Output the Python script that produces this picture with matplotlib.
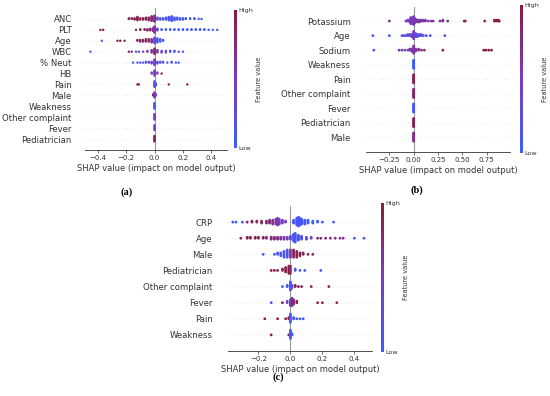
import numpy as np
import matplotlib
matplotlib.use("Agg")
import matplotlib.pyplot as plt
from matplotlib.colors import LinearSegmentedColormap
from matplotlib.cm import ScalarMappable

# ---- panel (a) ----
a_features = ["ANC", "PLT", "Age", "WBC", "% Neut", "HB", "Pain", "Male",
              "Weakness", "Other complaint", "Fever", "Pediatrician"]
a_shap = [
    [-0.18, -0.16, -0.14, -0.12, -0.1, -0.08, -0.06, -0.04, -0.02, 0.0, 0.02, 0.04, 0.06,
     0.08, 0.1, 0.12, 0.14, 0.16, 0.18, 0.2, 0.22, 0.25, 0.28, 0.31, 0.33],
    [-0.38, -0.36, -0.13, -0.1, -0.07, -0.05, -0.03, -0.01, 0.0, 0.02, 0.05, 0.08, 0.11,
     0.14, 0.17, 0.2, 0.23, 0.26, 0.29, 0.32, 0.35, 0.38, 0.41, 0.44],
    [-0.37, -0.26, -0.24, -0.21, -0.12, -0.1, -0.08, -0.06, -0.04, -0.02, 0.0, 0.02, 0.04, 0.06],
    [-0.45, -0.18, -0.16, -0.13, -0.11, -0.08, -0.05, -0.02, 0.0, 0.02, 0.05, 0.08, 0.11,
     0.14, 0.17, 0.2],
    [-0.15, -0.12, -0.1, -0.08, -0.06, -0.04, -0.02, 0.0, 0.02, 0.04, 0.06, 0.09, 0.12, 0.15, 0.17],
    [-0.02, 0.0, 0.02, 0.05],
    [-0.12, -0.11, 0.0, 0.01, 0.1, 0.23],
    [-0.01, 0.0, 0.01],
    [0.0],
    [0.0],
    [0.0],
    [0.0],
]
a_color = [
    [0.9, 0.9, 0.9, 0.95, 0.85, 0.9, 0.9, 0.85, 0.8, 0.7, 0.3, 0.2, 0.15, 0.1, 0.1, 0.1,
     0.1, 0.1, 0.05, 0.05, 0.05, 0.05, 0.05, 0.05, 0.05],
    [1.0, 1.0, 0.9, 0.9, 0.9, 0.85, 0.8, 0.7, 0.6, 0.3, 0.1, 0.05, 0.05, 0.05, 0.05, 0.05,
     0.05, 0.05, 0.05, 0.05, 0.05, 0.05, 0.05, 0.05],
    [0.1, 0.95, 0.95, 0.9, 0.9, 0.9, 0.85, 0.85, 0.8, 0.7, 0.3, 0.1, 0.1, 0.1],
    [0.1, 0.9, 0.7, 0.3, 0.2, 0.5, 0.5, 0.7, 0.8, 0.6, 0.4, 0.3, 0.2, 0.2, 0.15, 0.1],
    [0.1, 0.1, 0.15, 0.1, 0.2, 0.3, 0.4, 0.5, 0.3, 0.2, 0.15, 0.1, 0.1, 0.1, 0.1],
    [0.5, 0.6, 0.5, 0.9],
    [1.0, 1.0, 0.1, 0.2, 1.0, 1.0],
    [0.9, 0.6, 0.2],
    [0.1],
    [0.5],
    [0.4],
    [0.9],
]
a_count = [
    [2, 2, 3, 6, 3, 3, 4, 5, 8, 10, 4, 3, 3, 4, 6, 8, 5, 4, 3, 3, 2, 2, 2, 1, 1],
    [1, 1, 1, 2, 2, 3, 4, 6, 12, 4, 2, 2, 2, 2, 2, 2, 2, 2, 2, 2, 2, 1, 1, 1],
    [1, 1, 1, 1, 2, 3, 3, 4, 4, 5, 8, 6, 4, 2],
    [1, 1, 1, 1, 1, 1, 2, 4, 8, 4, 3, 3, 2, 2, 1, 1],
    [1, 1, 1, 1, 2, 2, 3, 8, 3, 2, 2, 1, 2, 1, 1],
    [2, 6, 2, 1],
    [1, 1, 8, 3, 1, 1],
    [2, 6, 2],
    [8],
    [8],
    [6],
    [8],
]

# ---- panel (b) ----
b_features = ["Potassium", "Age", "Sodium", "Weakness", "Pain", "Other complaint",
              "Fever", "Pediatrician", "Male"]
b_shap = [
    [-0.25, -0.08, -0.06, -0.04, -0.03, -0.02, -0.01, 0.0, 0.01, 0.02, 0.04, 0.06, 0.08,
     0.1, 0.12, 0.15, 0.18, 0.2, 0.27, 0.3, 0.35, 0.52, 0.53, 0.73, 0.83, 0.85, 0.87, 0.88],
    [-0.42, -0.25, -0.12, -0.1, -0.08, -0.06, -0.04, -0.02, 0.0, 0.02, 0.04, 0.06, 0.08,
     0.1, 0.13, 0.17, 0.32],
    [-0.41, -0.15, -0.12, -0.09, -0.06, -0.04, -0.02, 0.0, 0.02, 0.05, 0.08, 0.11, 0.3,
     0.72, 0.74, 0.77, 0.8],
    [0.0], [0.0], [0.0], [0.0], [0.0], [0.0],
]
b_color = [
    [0.7, 0.5, 0.5, 0.6, 0.5, 0.5, 0.5, 0.5, 0.55, 0.6, 0.6, 0.6, 0.6, 0.6, 0.6, 0.6, 0.6,
     0.6, 0.7, 0.7, 0.7, 0.9, 0.9, 0.85, 1.0, 1.0, 1.0, 1.0],
    [0.0, 0.0, 0.2, 0.2, 0.2, 0.3, 0.3, 0.4, 0.5, 0.3, 0.2, 0.2, 0.2, 0.2, 0.1, 0.1, 0.1],
    [0.1, 0.6, 0.5, 0.5, 0.6, 0.6, 0.6, 0.6, 0.6, 0.7, 0.8, 0.7, 0.9, 1.0, 1.0, 1.0, 1.0],
    [0.0], [0.9], [0.85], [0.05], [0.9], [0.7],
]
b_count = [
    [1, 1, 2, 3, 5, 6, 8, 10, 6, 4, 3, 3, 2, 2, 2, 1, 1, 1, 1, 2, 1, 1, 1, 1, 2, 2, 2, 1],
    [1, 1, 1, 1, 1, 2, 2, 3, 8, 4, 3, 2, 2, 1, 1, 1, 1],
    [1, 1, 1, 1, 1, 2, 3, 8, 3, 2, 1, 1, 1, 1, 1, 1, 1],
    [12], [12], [12], [12], [12], [12],
]

# ---- panel (c) ----
c_features = ["CRP", "Age", "Male", "Pediatrician", "Other complaint", "Fever", "Pain",
              "Weakness"]
c_shap = [
    [-0.36, -0.34, -0.3, -0.27, -0.24, -0.21, -0.18, -0.15, -0.13, -0.11, -0.09, -0.08,
     -0.07, -0.05, -0.03, 0.02, 0.04, 0.05, 0.06, 0.07, 0.09, 0.11, 0.14, 0.17, 0.2, 0.27],
    [-0.31, -0.27, -0.25, -0.22, -0.2, -0.17, -0.15, -0.12, -0.1, -0.08, -0.06, -0.04,
     -0.02, 0.0, 0.02, 0.03, 0.05, 0.07, 0.1, 0.13, 0.17, 0.19, 0.22, 0.25, 0.28, 0.31,
     0.33, 0.4, 0.46],
    [-0.17, -0.1, -0.08, -0.06, -0.04, -0.02, 0.0, 0.02, 0.04, 0.06, 0.08, 0.11, 0.14],
    [-0.12, -0.1, -0.08, -0.05, -0.03, -0.01, 0.0, 0.03, 0.06, 0.09, 0.19],
    [-0.05, -0.02, 0.0, 0.01, 0.03, 0.05, 0.07, 0.13, 0.24],
    [-0.12, -0.05, -0.02, 0.0, 0.01, 0.02, 0.04, 0.17, 0.2, 0.29],
    [-0.16, -0.08, -0.03, -0.01, 0.0, 0.02, 0.04, 0.06, 0.08],
    [-0.12, -0.01, 0.0, 0.01],
]
c_color = [
    [0.05, 0.05, 0.05, 0.9, 0.9, 0.85, 0.8, 0.8, 0.75, 0.7, 0.6, 0.55, 0.5, 0.5, 0.4,
     0.1, 0.1, 0.05, 0.05, 0.05, 0.05, 0.05, 0.05, 0.05, 0.05, 0.05],
    [1.0, 0.95, 0.95, 0.9, 0.9, 0.85, 0.8, 0.8, 0.75, 0.7, 0.65, 0.6, 0.5, 0.3, 0.1, 0.1,
     0.1, 0.15, 0.2, 0.5, 0.8, 0.8, 0.8, 0.8, 0.7, 0.6, 0.7, 0.05, 0.05],
    [0.05, 0.1, 0.1, 0.1, 0.15, 0.2, 0.6, 0.9, 0.9, 0.9, 0.9, 0.9, 0.9],
    [1.0, 1.0, 1.0, 0.9, 0.95, 0.95, 0.8, 0.1, 0.05, 0.05, 0.05],
    [0.1, 0.1, 0.1, 0.2, 0.9, 0.9, 0.9, 0.9, 0.9],
    [0.05, 0.9, 0.3, 0.5, 0.7, 0.8, 0.9, 0.9, 0.9, 0.9],
    [1.0, 1.0, 1.0, 0.9, 0.05, 0.05, 0.05, 0.05, 0.05],
    [1.0, 0.9, 0.05, 0.05],
]
c_count = [
    [1, 1, 1, 1, 2, 2, 3, 3, 4, 5, 6, 8, 6, 4, 2, 4, 8, 10, 8, 6, 5, 4, 3, 2, 1, 1],
    [1, 2, 2, 2, 2, 2, 2, 3, 3, 3, 3, 3, 3, 4, 8, 10, 6, 4, 3, 2, 1, 1, 1, 1, 1, 1, 1, 1, 1],
    [1, 1, 2, 3, 5, 6, 6, 6, 5, 3, 2, 1, 1],
    [1, 1, 1, 2, 4, 6, 6, 2, 1, 1, 1],
    [1, 2, 8, 3, 2, 1, 1, 1, 1],
    [1, 1, 2, 5, 6, 4, 2, 1, 1, 1],
    [1, 1, 1, 2, 8, 2, 1, 1, 1],
    [1, 1, 8, 2],
]

cmap = LinearSegmentedColormap.from_list("fv", ["#3d5cff", "#7a3cc0", "#8a1c3c"])
TXT = "#333333"


def swarm_offsets(vals, row_height=0.4, nbins=100):
    # same idea as shap's beeswarm: stack points falling in the same bin
    n = len(vals)
    rng = vals.max() - vals.min()
    quant = np.round(nbins * (vals - vals.min()) / (rng + 1e-8))
    inds = np.argsort(quant, kind="stable")
    ys = np.zeros(n)
    layer = 0
    last = -1
    for i in inds:
        if quant[i] != last:
            layer = 0
        ys[i] = np.ceil(layer / 2) * ((layer % 2) * 2 - 1)
        layer += 1
        last = quant[i]
    ys *= 0.9 * (row_height / np.max(ys + 1))
    return ys


def beeswarm(rect, crect, feats, shap, colv, count, xlim, xticks, tlabels,
             ypad, ms, cap, cap_xy):
    ax = fig.add_axes(rect)
    nf = len(feats)
    for i in range(nf):
        y0 = nf - 1 - i
        vals = np.repeat(np.array(shap[i], float), count[i])
        cols = np.repeat(np.array(colv[i], float), count[i])
        ys = swarm_offsets(vals)
        ax.axhline(y0, color="#cccccc", lw=0.5, dashes=(1, 5), zorder=-1)
        ax.scatter(vals, y0 + ys, c=cols, cmap=cmap, vmin=0, vmax=1, s=ms,
                   linewidths=0, zorder=3)
    ax.axvline(0, color="#999999", lw=0.8, zorder=-1)
    ax.set_xlim(*xlim)
    ax.set_ylim(-1, nf)
    ax.set_yticks(range(nf))
    ax.set_yticklabels(feats[::-1], fontsize=6.1, color=TXT)
    ax.set_xticks(xticks)
    ax.set_xticklabels(tlabels, fontsize=5.0, color=TXT)
    for s in ["top", "right", "left"]:
        ax.spines[s].set_visible(False)
    ax.spines["bottom"].set_color(TXT)
    ax.spines["bottom"].set_linewidth(0.6)
    ax.tick_params(axis="y", length=0, pad=ypad)
    ax.tick_params(axis="x", length=2, width=0.5, pad=1.5, color=TXT)
    ax.set_xlabel("SHAP value (impact on model output)", fontsize=6.0, color=TXT,
                  labelpad=2)
    cax = fig.add_axes(crect)
    sm = ScalarMappable(cmap=cmap)
    sm.set_array([0, 1])
    cb = fig.colorbar(sm, cax=cax)
    cb.set_ticks([0, 1])
    cb.set_ticklabels(["Low", "High"])
    cb.ax.tick_params(labelsize=4.6, length=0, pad=1.5, labelcolor=TXT)
    cb.outline.set_visible(False)
    cb.set_label("Feature value", size=4.8, labelpad=2, color=TXT)
    fig.text(cap_xy[0] / 550, 1 - cap_xy[1] / 396, cap, ha="center", va="center",
             family="Liberation Serif", fontweight="bold", fontsize=7.5)


fig = plt.figure(figsize=(5.5, 3.96), dpi=100)

beeswarm([85 / 550, 1 - 150 / 396, 142 / 550, 142 / 396],
         [234 / 550, 1 - 148 / 396, 2.5 / 550, 138 / 396],
         a_features, a_shap, a_color, a_count, (-0.488, 0.509),
         [-0.4, -0.2, 0.0, 0.2, 0.4], ["\u22120.4", "\u22120.2", "0.0", "0.2", "0.4"],
         9.5, 3, "(a)", (127, 192))

beeswarm([366 / 550, 1 - 152 / 396, 144 / 550, 145.5 / 396],
         [520 / 550, 1 - 153 / 396, 2.5 / 550, 148 / 396],
         b_features, b_shap, b_color, b_count, (-0.49, 0.99),
         [-0.25, 0.0, 0.25, 0.5, 0.75],
         ["\u22120.25", "0.00", "0.25", "0.50", "0.75"],
         11, 4, "(b)", (417, 190))

beeswarm([228 / 550, 1 - 351 / 396, 144 / 550, 145 / 396],
         [381 / 550, 1 - 352 / 396, 2.5 / 550, 149 / 396],
         c_features, c_shap, c_color, c_count, (-0.39, 0.51),
         [-0.2, 0.0, 0.2, 0.4], ["\u22120.2", "0.0", "0.2", "0.4"],
         11, 4, "(c)", (278, 377))

fig.savefig("out.png", dpi=100)
